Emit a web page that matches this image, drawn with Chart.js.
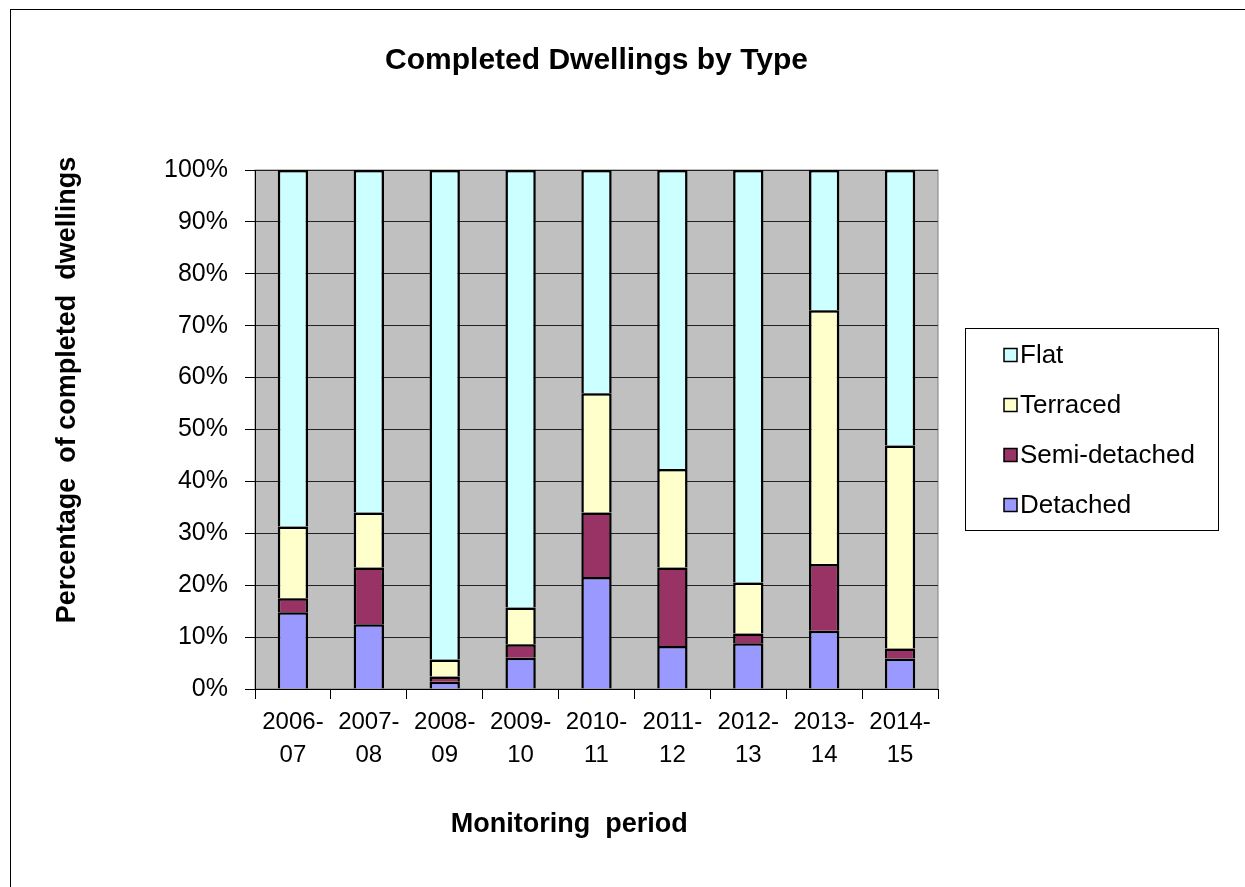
<!DOCTYPE html>
<html>
<head>
<meta charset="utf-8">
<title>Completed Dwellings by Type</title>
<script src="https://cdn.jsdelivr.net/npm/chart.js@4.4.1/dist/chart.umd.min.js"></script>
<style>
  html, body { margin: 0; padding: 0; background: #fff; }
  #wrap { width: 1245px; height: 887px; }
</style>
</head>
<body>
<div id="wrap"><canvas id="myChart" width="1245" height="887"></canvas></div>
<script>
// Data (percent of completed dwellings)
const periods = [['2006-', '07'], ['2007-', '08'], ['2008-', '09'], ['2009-', '10'], ['2010-', '11'],
                 ['2011-', '12'], ['2012-', '13'], ['2013-', '14'], ['2014-', '15']];
const detached = [14.8, 12.5, 1.4, 6.0, 21.6, 8.3, 8.8, 11.2, 5.9];
const semiDetached = [2.7, 10.9, 1.0, 2.6, 12.4, 15.1, 1.9, 12.9, 1.9];
const terraced = [13.8, 10.6, 3.3, 7.1, 23.0, 19.0, 9.8, 48.9, 39.1];
const flat = [68.7, 66.0, 94.3, 84.3, 43.0, 57.6, 79.5, 27.0, 53.1];
const yTicks = [0, 10, 20, 30, 40, 50, 60, 70, 80, 90, 100];

const FONT = '"Liberation Sans", Arial, sans-serif';
const xTitle = 'Monitoring  period';
const yTitle = 'Percentage  of completed  dwellings';

// Grey plot area + outer frame
const plotBackground = {
    id: 'plotBackground',
    beforeDraw(chart) {
        const { ctx, chartArea: a } = chart;
        ctx.save();
        ctx.strokeStyle = '#000';
        ctx.lineWidth = 1;
        ctx.strokeRect(10.5, 9.5, 1400, 1000);
        ctx.fillStyle = '#c0c0c0';
        ctx.fillRect(a.left, a.top, a.right - a.left, a.bottom - a.top);
        ctx.strokeStyle = '#808080';
        ctx.strokeRect(a.left, a.top, a.right - a.left, a.bottom - a.top);
        ctx.restore();
    }
};

// Axis titles sit a bit off-centre in the original, so draw them here
const axisTitles = {
    id: 'axisTitles',
    afterDraw(chart) {
        const { ctx, chartArea: a } = chart;
        ctx.save();
        ctx.fillStyle = '#000';
        ctx.font = 'bold 27px ' + FONT;
        ctx.textAlign = 'center';
        ctx.textBaseline = 'middle';
        ctx.fillText(xTitle, a.left + (a.right - a.left) * 0.46, a.bottom + 136);
        ctx.translate(68, a.top + (a.bottom - a.top) * 0.424);
        ctx.rotate(-Math.PI / 2);
        ctx.fillText(yTitle, 0, 0);
        ctx.restore();
    }
};

// Boxed legend on the right, top item = top of stack
const boxLegend = {
    id: 'boxLegend',
    afterDraw(chart) {
        const ctx = chart.ctx;
        const sets = chart.data.datasets.slice().reverse();
        ctx.save();
        ctx.strokeStyle = '#000';
        ctx.lineWidth = 1;
        ctx.strokeRect(965.5, 328.5, 253, 202);
        ctx.font = '26px ' + FONT;
        ctx.textBaseline = 'middle';
        sets.forEach((ds, i) => {
            const y = 355 + i * 50;
            ctx.fillStyle = ds.backgroundColor;
            ctx.fillRect(1004, y - 6.5, 13, 13);
            ctx.lineWidth = 1.5;
            ctx.strokeRect(1004, y - 6.5, 13, 13);
            ctx.fillStyle = '#000';
            ctx.fillText(ds.label, 1020, y + 1);
        });
        ctx.restore();
    }
};

function barSet(label, data, color) {
    return {
        label: label,
        data: data,
        backgroundColor: color,
        borderColor: '#000',
        borderWidth: 2.5,
        borderSkipped: 'start',   // segment joins get one line, not two
        barPercentage: 0.4,
        categoryPercentage: 1.0
    };
}

const ctx = document.getElementById('myChart').getContext('2d');
const myChart = new Chart(ctx, {
    type: 'bar',
    data: {
        labels: periods,
        datasets: [
            barSet('Detached', detached, '#9999ff'),
            barSet('Semi-detached', semiDetached, '#993366'),
            barSet('Terraced', terraced, '#ffffcc'),
            barSet('Flat', flat, '#ccffff')
        ]
    },
    options: {
        responsive: false,
        animation: false,
        layout: { padding: { top: 10, left: 45, right: 307, bottom: 10 } },
        plugins: {
            legend: { display: false },
            tooltip: { enabled: false },
            title: {
                display: true,
                text: 'Completed Dwellings by Type',
                fullSize: false,
                color: '#000',
                font: { family: FONT, size: 30, weight: 'bold' },
                padding: { top: 33, bottom: 91 }
            }
        },
        scales: {
            x: {
                stacked: true,
                afterFit(scale) { scale.height = 188; },
                grid: { display: true, drawOnChartArea: false, drawTicks: true, tickLength: 10, color: '#000', offset: true },
                border: { display: true, color: '#000', width: 1 },
                ticks: {
                    color: '#000',
                    padding: 7,
                    maxRotation: 0,
                    autoSkip: false,
                    font: { family: FONT, size: 24, lineHeight: 1.375 }
                }
            },
            y: {
                stacked: true,
                min: 0,
                max: 100,
                afterFit(scale) { scale.width = 210; },
                afterBuildTicks(scale) { scale.ticks = yTicks.map(v => ({ value: v })); },
                grid: { color: '#222', lineWidth: 1, drawTicks: true, tickLength: 10, tickColor: '#000' },
                border: { display: true, color: '#000', width: 1 },
                ticks: {
                    color: '#000',
                    padding: 17,
                    font: { family: FONT, size: 25 },
                    callback: v => v + '%'
                }
            }
        }
    },
    plugins: [plotBackground, axisTitles, boxLegend]
});
</script>
</body>
</html>
